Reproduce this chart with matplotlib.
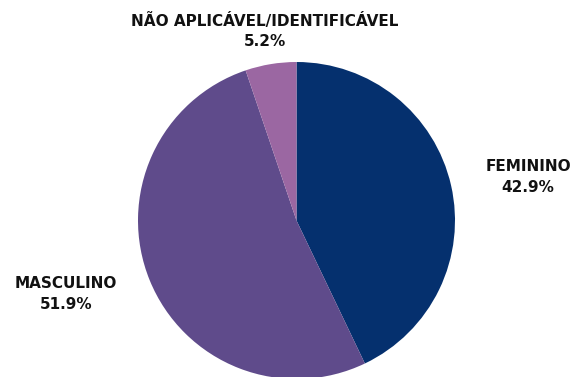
import matplotlib
matplotlib.use("Agg")
import matplotlib.pyplot as plt

categories = ["FEMININO", "MASCULINO", "NÃO APLICÁVEL/IDENTIFICÁVEL"]
shares = [42.9, 51.9, 5.2]
colors = ["#05306e", "#5f4b8b", "#9b67a2"]

# label anchor points in pixel-like axes units (y up)
label_pos = [(528, 200), (66, 83), (265, 346)]

plt.rcParams['font.family'] = ['DejaVu Sans']

fig = plt.figure(figsize=(5.79, 3.77), dpi=100)
ax = fig.add_axes([0, 0, 1, 1])
ax.set_xlim(0, 579)
ax.set_ylim(0, 377)
ax.set_aspect("equal")
ax.axis("off")

ax.pie(shares, colors=colors, startangle=90, counterclock=False,
       center=(296.5, 156.5), radius=158.5,
       wedgeprops=dict(linewidth=0))

for name, val, (x, y) in zip(categories, shares, label_pos):
    ax.text(x, y, name + "\n" + f"{val:.1f}%", ha="center", va="center",
            fontsize=11, fontweight="bold", linespacing=1.45, color="#111111")

# pie call resets limits; put them back
ax.set_xlim(0, 579)
ax.set_ylim(0, 377)

fig.savefig("out.png", dpi=100)
